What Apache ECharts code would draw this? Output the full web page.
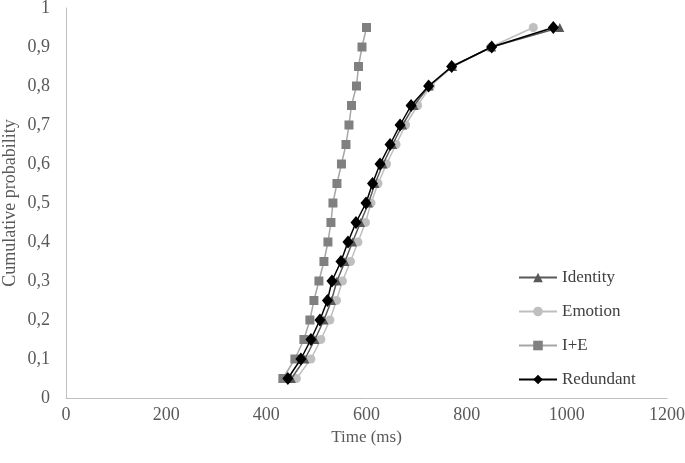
<!DOCTYPE html>
<html>
<head>
<meta charset="utf-8">
<script src="https://cdn.jsdelivr.net/npm/echarts@6/dist/echarts.min.js"></script>
<style>html,body{margin:0;padding:0;background:#fff}#c{width:685px;height:463px}</style>
</head>
<body>
<div id="c"></div>
<script>
var probabilities = [0.05,0.1,0.15,0.2,0.25,0.3,0.35,0.4,0.45,0.5,0.55,0.6,0.65,0.7,0.75,0.8,0.85,0.9,0.95];
var identityTimes  = [450,477,497,515,530,541,557,572,588,604,617,633,652,672,695,725,772,850,986];
var emotionTimes   = [460,489,509,527,540,552,568,583,598,609,623,640,659,678,702,728,772,848,933];
var ieTimes        = [433,457,475,487,495,505,515,523,529,533,541,550,559,565,570,580,584,591,600];
var redundantTimes = [443,469,489,507,522,531,549,563,579,599,612,627,647,667,689,724,770,850,973];
var seriesNames = ['Identity','Emotion','I+E','Redundant'];
var xTicks = [0,200,400,600,800,1000,1200];

function pairs(times){ return times.map(function(t,i){ return [t, probabilities[i]]; }); }

var font = 'Liberation Serif';
var chart = echarts.init(document.getElementById('c'));
chart.setOption({
  animation:false,
  backgroundColor:'#fff',
  grid:{left:66,right:18,top:8,bottom:65,outerBoundsMode:'none',containLabel:false},
  legend:{
    orient:'vertical', left:513, top:264, itemGap:17, itemWidth:38, itemHeight:12,
    textStyle:{fontFamily:font,fontSize:17,color:'#404040'},
    data:seriesNames
  },
  xAxis:{
    type:'value', min:0, max:1200, interval:200,
    name:'Time (ms)', nameLocation:'middle', nameGap:31,
    nameTextStyle:{fontFamily:font,fontSize:17,color:'#595959'},
    axisLine:{show:true,lineStyle:{color:'#bfbfbf',width:1}},
    axisTick:{show:false},
    splitLine:{show:false},
    axisLabel:{fontFamily:font,fontSize:18,color:'#595959',margin:8,
      formatter:function(v){ return xTicks.indexOf(v)>=0 ? String(v) : ''; }}
  },
  yAxis:{
    type:'value', min:0, max:1, interval:0.1,
    name:'Cumulative probability', nameLocation:'middle', nameGap:47, nameMoveOverlap:false,
    nameTextStyle:{fontFamily:font,fontSize:18,color:'#595959'},
    axisLine:{show:true,lineStyle:{color:'#bfbfbf',width:1}},
    axisTick:{show:false},
    splitLine:{show:false},
    axisLabel:{fontFamily:font,fontSize:18,color:'#595959',margin:16,
      formatter:function(v){ var s = (Math.round(v*10)/10).toString(); return s.replace('.',','); }}
  },
  series:[
    {name:'Identity',type:'line',data:pairs(identityTimes),symbol:'triangle',symbolSize:9,
     lineStyle:{color:'#595959',width:1.5},itemStyle:{color:'#595959'},z:2},
    {name:'Emotion',type:'line',data:pairs(emotionTimes),symbol:'circle',symbolSize:9,
     lineStyle:{color:'#bfbfbf',width:1.5},itemStyle:{color:'#bfbfbf'},z:1},
    {name:'I+E',type:'line',data:pairs(ieTimes),symbol:'rect',symbolSize:9,
     lineStyle:{color:'#a6a6a6',width:1.5},itemStyle:{color:'#808080'},z:3},
    {name:'Redundant',type:'line',data:pairs(redundantTimes),symbol:'diamond',symbolSize:[11,13],
     lineStyle:{color:'#000',width:1.5},itemStyle:{color:'#000'},z:4}
  ]
});
</script>
</body>
</html>
